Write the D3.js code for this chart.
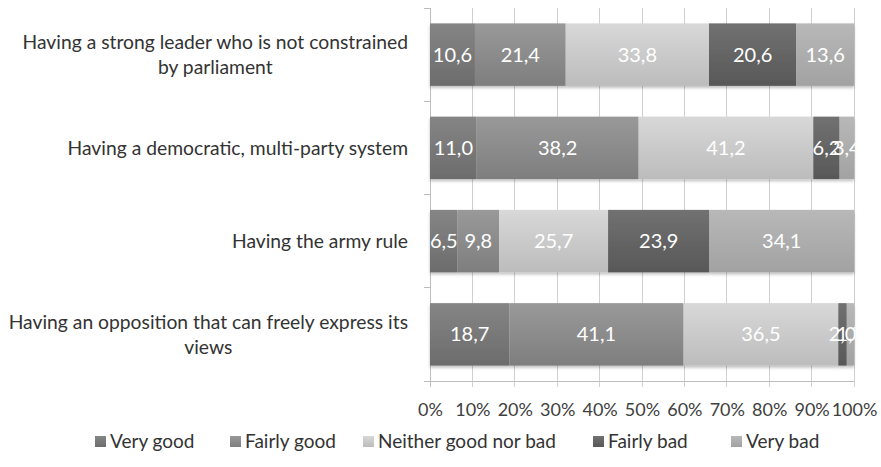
<!DOCTYPE html>
<html>
<head>
<meta charset="utf-8">
<script src="https://cdn.jsdelivr.net/npm/d3@7"></script>
<style>
  html, body { margin: 0; padding: 0; background: #fff; }
  svg { display: block; font-family: Lato, "Open Sans", sans-serif; }
</style>
</head>
<body>
<svg id="chart" width="881" height="467"></svg>
<script>
// Survey statements (one bar each)
const categories = [
  "Having a strong leader who is not constrained|by parliament",
  "Having a democratic, multi-party system",
  "Having the army rule",
  "Having an opposition that can freely express its|views"
];

// Response options, in stacking order
const seriesNames = ["Very good", "Fairly good", "Neither good nor bad", "Fairly bad", "Very bad"];

// Percent shares per statement, one array per response option
const veryGood    = [10.6, 11.0,  6.5, 18.7];
const fairlyGood  = [21.4, 38.2,  9.8, 41.1];
const neither     = [33.8, 41.2, 25.7, 36.5];
const fairlyBad   = [20.6,  6.2, 23.9,  2.0];
const veryBad     = [13.6,  3.4, 34.1,  1.7];

const tickValues = [0, 10, 20, 30, 40, 50, 60, 70, 80, 90, 100];

// Greyscale fills: [top, bottom] of each bar's vertical gradient
const fills = [
  ["#858585", "#6c6c6c"],
  ["#999999", "#7e7e7e"],
  ["#d8d8d8", "#bcbcbc"],
  ["#717171", "#585858"],
  ["#b8b8b8", "#a2a2a2"]
];

const rows = categories.map((c, i) => ({
  cat: c,
  "Very good": veryGood[i],
  "Fairly good": fairlyGood[i],
  "Neither good nor bad": neither[i],
  "Fairly bad": fairlyBad[i],
  "Very bad": veryBad[i]
}));

const svg = d3.select("#chart");
const plot = { left: 430, right: 854, top: 8, bottom: 381 };

const x = d3.scaleLinear().domain([0, 100]).range([plot.left, plot.right]);
const y = d3.scaleBand().domain(categories).range([plot.top, plot.bottom]).paddingInner(0.33).paddingOuter(0.165);
const yOuter = d3.scaleBand().domain(categories).range([plot.top, plot.bottom]);

const defs = svg.append("defs");
fills.forEach((f, i) => {
  const g = defs.append("linearGradient").attr("id", "grad" + i)
    .attr("x1", 0).attr("y1", 0).attr("x2", 0).attr("y2", 1);
  g.append("stop").attr("offset", "0%").attr("stop-color", f[0]);
  g.append("stop").attr("offset", "100%").attr("stop-color", f[1]);
});
const shadow = defs.append("filter").attr("id", "shadow")
  .attr("x", "-5%").attr("y", "-10%").attr("width", "110%").attr("height", "130%");
shadow.append("feDropShadow").attr("dx", 0).attr("dy", 2).attr("stdDeviation", 1.5)
  .attr("flood-color", "#000").attr("flood-opacity", 0.25);
defs.append("clipPath").attr("id", "plotClip")
  .append("rect").attr("x", plot.left).attr("y", plot.top)
  .attr("width", plot.right - plot.left + 1).attr("height", plot.bottom - plot.top);

// Vertical gridlines
svg.append("g").selectAll("line").data(tickValues).join("line")
  .attr("x1", d => x(d)).attr("x2", d => x(d))
  .attr("y1", plot.top).attr("y2", plot.bottom + 6)
  .attr("stroke", "#d0d0d0").attr("stroke-width", 1)
  .attr("shape-rendering", "crispEdges");

// Left axis with ticks at category boundaries
const bounds = categories.map(c => yOuter(c)).concat([plot.bottom]);
svg.append("line").attr("x1", plot.left).attr("x2", plot.left)
  .attr("y1", plot.top).attr("y2", plot.bottom + 6)
  .attr("stroke", "#bdbdbd").attr("shape-rendering", "crispEdges");
svg.append("g").selectAll("line").data(bounds).join("line")
  .attr("x1", plot.left - 6).attr("x2", plot.left)
  .attr("y1", d => d).attr("y2", d => d)
  .attr("stroke", "#bdbdbd").attr("shape-rendering", "crispEdges");

// Bottom axis
svg.append("line").attr("x1", plot.left - 6).attr("x2", plot.right)
  .attr("y1", plot.bottom).attr("y2", plot.bottom)
  .attr("stroke", "#bdbdbd").attr("shape-rendering", "crispEdges");

const xAxis = d3.axisBottom(x).tickValues(tickValues).tickFormat(d => d + "%").tickSize(0).tickPadding(0);
const xa = svg.append("g").attr("transform", `translate(0,${plot.bottom})`).call(xAxis);
xa.select(".domain").remove();
xa.selectAll("text").attr("dy", null).attr("y", 35)
  .style("font-family", "Lato, sans-serif").style("font-size", "18px").attr("fill", "#404040");

// Stacked bars
const stack = d3.stack().keys(seriesNames);
const layers = stack(rows);

const barG = svg.append("g").attr("filter", "url(#shadow)");
layers.forEach((layer, i) => {
  barG.append("g").attr("fill", `url(#grad${i})`)
    .selectAll("rect").data(layer).join("rect")
    .attr("x", d => x(d[0]))
    .attr("y", d => y(d.data.cat))
    .attr("width", d => x(d[1]) - x(d[0]))
    .attr("height", y.bandwidth());
});

// Value labels
const labelG = svg.append("g").attr("clip-path", "url(#plotClip)");
layers.forEach(layer => {
  labelG.append("g").selectAll("text").data(layer).join("text")
    .attr("x", d => (x(d[0]) + x(d[1])) / 2)
    .attr("y", d => y(d.data.cat) + y.bandwidth() / 2)
    .attr("dy", "0.35em")
    .attr("text-anchor", "middle")
    .attr("fill", "#ffffff")
    .style("font-size", "20px")
    .text(d => d3.format(".1f")(d[1] - d[0]).replace(".", ","));
});

// Category labels: lines centred within a block right-aligned to the axis
const catG = svg.append("g");
categories.forEach(c => {
  const lines = c.split("|");
  const cy = yOuter(c) + yOuter.bandwidth() / 2;
  const lh = 25;
  const g = catG.append("g");
  const texts = lines.map((ln, k) => g.append("text")
    .attr("y", cy + (k - (lines.length - 1) / 2) * lh)
    .attr("dy", "0.35em")
    .attr("text-anchor", "middle")
    .attr("fill", "#333333")
    .style("font-size", "19.3px")
    .text(ln));
  const w = d3.max(texts, t => t.node().getComputedTextLength());
  texts.forEach(t => t.attr("x", 408 - w / 2));
});

// Legend
const legendX = [95, 230, 363, 593, 731];
const lg = svg.append("g").selectAll("g").data(seriesNames).join("g")
  .attr("transform", (d, i) => `translate(${legendX[i]},441)`);
lg.append("rect").attr("x", 0).attr("y", -5).attr("width", 11).attr("height", 11)
  .attr("fill", (d, i) => `url(#grad${i})`);
lg.append("text").attr("x", 15).attr("dy", "0.35em")
  .attr("fill", "#333333").style("font-size", "19px").text(d => d);
</script>
</body>
</html>
